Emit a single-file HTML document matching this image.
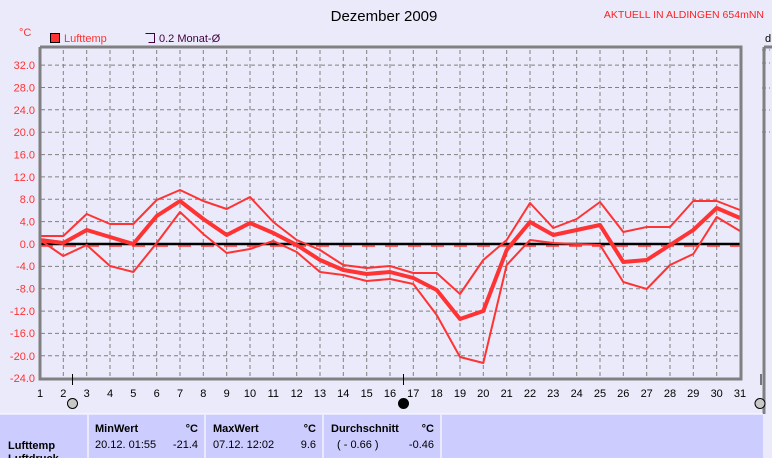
<!DOCTYPE html>
<html><head><meta charset="utf-8"><style>
html,body{margin:0;padding:0;background:#eaeafa;}
body{width:772px;height:458px;overflow:hidden;position:relative;font-family:"Liberation Sans",sans-serif;}
</style></head><body>
<svg width="772" height="458" viewBox="0 0 772 458" xmlns="http://www.w3.org/2000/svg" style="position:absolute;left:0;top:0" font-family="Liberation Sans">
<rect width="772" height="458" fill="#eaeafa"/>
<text x="384" y="21" font-size="15" text-anchor="middle" fill="#000">Dezember 2009</text>
<text x="764" y="18" font-size="10.5" text-anchor="end" fill="#ff2020">AKTUELL IN ALDINGEN 654mNN</text>
<text x="19" y="36" font-size="11" fill="#ff3333">°C</text>
<rect x="50.5" y="33.5" width="9" height="9" fill="#ff3333" stroke="#000"/>
<text x="64" y="42" font-size="11" fill="#ff3333">Lufttemp</text>
<path d="M145.5 33.5h9v9h-6" fill="none" stroke="#400040"/>
<text x="159" y="42" font-size="11" fill="#400040">0.2 Monat-Ø</text>
<text x="765" y="42" font-size="11" fill="#000">d</text>
<path fill="none" stroke="#808080" stroke-dasharray="4,3" d="M63.3 50V377M86.7 50V377M110 50V377M133.3 50V377M156.7 50V377M180 50V377M203.3 50V377M226.7 50V377M250 50V377M273.3 50V377M296.7 50V377M320 50V377M343.3 50V377M366.7 50V377M390 50V377M413.3 50V377M436.7 50V377M460 50V377M483.3 50V377M506.7 50V377M530 50V377M553.3 50V377M576.7 50V377M600 50V377M623.3 50V377M646.7 50V377M670 50V377M693.3 50V377M716.7 50V377"/>
<path fill="none" stroke="#808080" stroke-dasharray="4,3" d="M41 65.1H739M41 87.5H739M41 109.8H739M41 132.2H739M41 154.6H739M41 176.9H739M41 199.3H739M41 221.6H739M41 266.4H739M41 288.7H739M41 311.1H739M41 333.4H739M41 355.8H739"/>
<g font-size="11" text-anchor="end" fill="#ff3333">
<text x="35" y="69">32.0</text><text x="35" y="91.5">28.0</text><text x="35" y="114">24.0</text><text x="35" y="136">20.0</text><text x="35" y="158.5">16.0</text><text x="35" y="181">12.0</text><text x="35" y="203">8.0</text><text x="35" y="225.5">4.0</text><text x="35" y="248">0.0</text><text x="35" y="270">-4.0</text><text x="35" y="292.5">-8.0</text><text x="35" y="315">-12.0</text><text x="35" y="337">-16.0</text><text x="35" y="360">-20.0</text><text x="35" y="382">-24.0</text>
</g>
<g font-size="11" text-anchor="middle" fill="#000">
<text x="40" y="397">1</text><text x="63.3" y="397">2</text><text x="86.7" y="397">3</text><text x="110" y="397">4</text><text x="133.3" y="397">5</text><text x="156.7" y="397">6</text><text x="180" y="397">7</text><text x="203.3" y="397">8</text><text x="226.7" y="397">9</text><text x="250" y="397">10</text><text x="273.3" y="397">11</text><text x="296.7" y="397">12</text><text x="320" y="397">13</text><text x="343.3" y="397">14</text><text x="366.7" y="397">15</text><text x="390" y="397">16</text><text x="413.3" y="397">17</text><text x="436.7" y="397">18</text><text x="460" y="397">19</text><text x="483.3" y="397">20</text><text x="506.7" y="397">21</text><text x="530" y="397">22</text><text x="553.3" y="397">23</text><text x="576.7" y="397">24</text><text x="600" y="397">25</text><text x="623.3" y="397">26</text><text x="646.7" y="397">27</text><text x="670" y="397">28</text><text x="693.3" y="397">29</text><text x="716.7" y="397">30</text><text x="740" y="397">31</text>
</g>
<path d="M762 50H770M762 63H770M762 88H770M762 110H770M762 132H770" stroke="#808080" stroke-dasharray="4,3"/>
<path d="M764 47V414" stroke="#808080" stroke-width="3" fill="none"/>
<path d="M764 47H772" stroke="#808080" stroke-width="3"/>
<line x1="40" y1="244" x2="740" y2="244" stroke="#000" stroke-width="2.5"/>
<line x1="40" y1="246" x2="740" y2="246" stroke="#ff3333" stroke-width="1.5" stroke-dasharray="13,10"/>
<g fill="none" stroke="#ff3333" stroke-linejoin="round">
<polyline stroke-width="2" points="40,236 63.3,236 86.7,214 110,224 133.3,224 156.7,200 180,190 203.3,201 226.7,209 250,197 273.3,222 296.7,240 320,250 343.3,265 366.7,268 390,266 413.3,273 436.7,273 460,294 483.3,260 506.7,240 530,203 553.3,228 576.7,219 600,202 623.3,232 646.7,227 670,227 693.3,201 716.7,201 740,210"/>
<polyline stroke-width="2" points="40,240 63.3,256 86.7,245 110,266 133.3,272 156.7,243 180,212 203.3,234 226.7,253 250,249 273.3,241 296.7,252 320,272 343.3,275 366.7,281 390,279 413.3,284 436.7,315 460,357 483.3,363 506.7,265 530,240 553.3,243 576.7,244 600,245 623.3,282 646.7,289 670,265 693.3,254 716.7,217 740,231"/>
<polyline stroke-width="4" points="40,240 63.3,243 86.7,230 110,237 133.3,244 156.7,216 180,201 203.3,219 226.7,235 250,223 273.3,233 296.7,245 320,260 343.3,270 366.7,274 390,272 413.3,278 436.7,290 460,319 483.3,311 506.7,250 530,222 553.3,235 576.7,230 600,225 623.3,262 646.7,260 670,245 693.3,230 716.7,208 740,218"/>
</g>
<path d="M40 47V379H741V47H40" fill="none" stroke="#808080" stroke-width="3"/>
<line x1="72.5" y1="374" x2="72.5" y2="385" stroke="#000"/>
<line x1="403.5" y1="374" x2="403.5" y2="385" stroke="#000"/>
<line x1="761" y1="374" x2="761" y2="385" stroke="#000"/>
<circle cx="72.5" cy="403.5" r="5" fill="#c8c8c8" stroke="#000"/>
<circle cx="403.5" cy="403.5" r="5" fill="#000" stroke="#000"/>
<circle cx="760" cy="403.5" r="5" fill="#c8c8c8" stroke="#000"/>
<rect x="0" y="414" width="763" height="44" fill="#ccccff"/>
<line x1="0" y1="414" x2="763" y2="414" stroke="#fff"/>
<g stroke="#eaeafa" stroke-width="2"><line x1="88" y1="414" x2="88" y2="458"/><line x1="205" y1="414" x2="205" y2="458"/><line x1="323" y1="414" x2="323" y2="458"/><line x1="441" y1="414" x2="441" y2="458"/></g>
<g font-size="11" fill="#000">
<text x="8" y="449" font-weight="bold">Lufttemp</text>
<text x="8" y="462" font-weight="bold">Luftdruck</text>
<text x="95" y="432" font-weight="bold">MinWert</text><text x="198" y="432" font-weight="bold" text-anchor="end">°C</text>
<text x="95" y="448">20.12.  01:55</text><text x="198" y="448" text-anchor="end">-21.4</text>
<text x="213" y="432" font-weight="bold">MaxWert</text><text x="316" y="432" font-weight="bold" text-anchor="end">°C</text>
<text x="213" y="448">07.12.  12:02</text><text x="316" y="448" text-anchor="end">9.6</text>
<text x="331" y="432" font-weight="bold">Durchschnitt</text><text x="434" y="432" font-weight="bold" text-anchor="end">°C</text>
<text x="337" y="448">( - 0.66 )</text><text x="434" y="448" text-anchor="end">-0.46</text>
</g>
</svg>
</body></html>
